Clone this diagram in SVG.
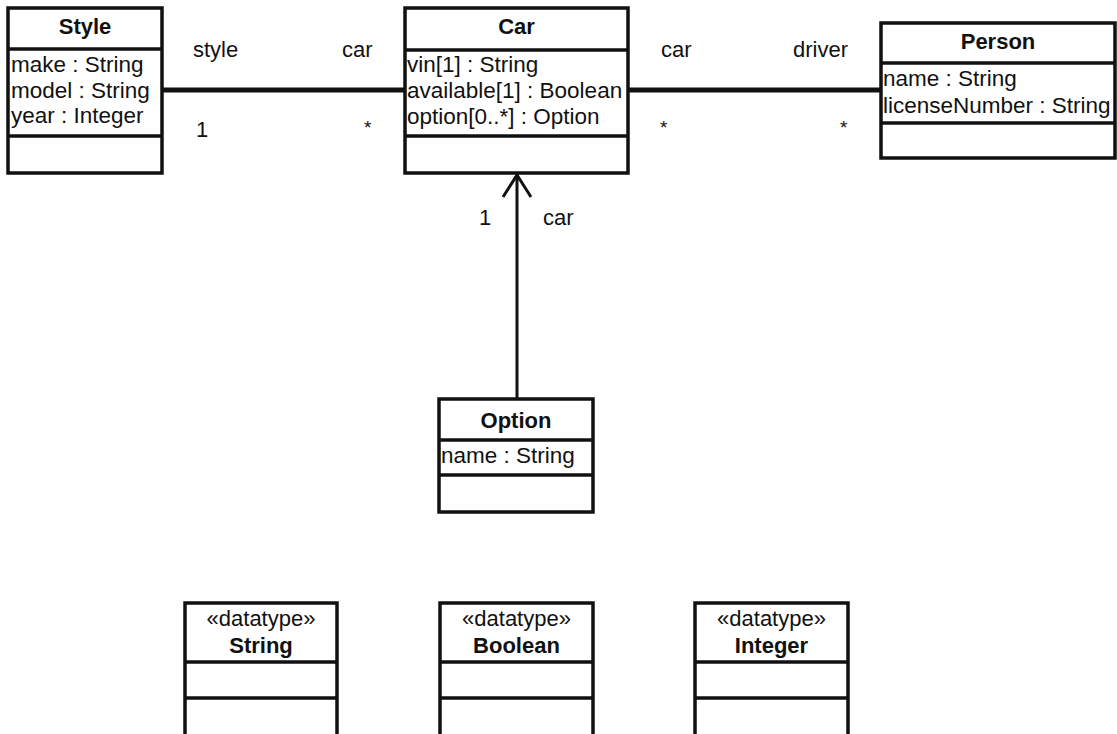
<svg xmlns="http://www.w3.org/2000/svg" width="1117" height="734" viewBox="0 0 1117 734">
<style>
text{font-family:"Liberation Sans",Arial,Helvetica,sans-serif;font-size:22.5px;fill:#111}
.t{font-weight:bold;text-anchor:middle;font-size:22px}
.s{text-anchor:middle;font-size:22px}
.box{fill:#fff;stroke:#111;stroke-width:3.5}
.div{stroke:#111;stroke-width:3.5}
.assoc{stroke:#111;stroke-width:5;fill:none}
.nav{stroke:#111;stroke-width:3;fill:none}
.lbl{font-size:22px}
.ast{font-size:19px}
</style>
<rect width="1117" height="734" fill="#fff"/>
<g id="connectors">
<line class="assoc" x1="162" y1="90" x2="405" y2="90"/>
<line class="assoc" x1="628" y1="90" x2="881" y2="90"/>
<line class="nav" x1="517" y1="399" x2="517" y2="175"/>
<polyline class="nav" points="503,197 517,175 531,197"/>
<text class="lbl" x="193" y="57">style</text>
<text class="lbl" x="342" y="57">car</text>
<text class="lbl" x="196" y="137">1</text>
<text class="ast" x="364" y="134">*</text>
<text class="lbl" x="661" y="57">car</text>
<text class="lbl" x="793" y="57">driver</text>
<text class="ast" x="660" y="134">*</text>
<text class="ast" x="840" y="134">*</text>
<text class="lbl" x="479" y="225">1</text>
<text class="lbl" x="543" y="225">car</text>
</g>
<g id="Style">
<rect class="box" x="8" y="8" width="154" height="165"/>
<line class="div" x1="8" y1="49" x2="162" y2="49"/>
<line class="div" x1="8" y1="136" x2="162" y2="136"/>
<text class="t" x="85" y="34">Style</text>
<text x="11" y="72">make : String</text>
<text x="11" y="98">model : String</text>
<text x="11" y="123">year : Integer</text>
</g>
<g id="Car">
<rect class="box" x="405" y="8" width="223" height="165"/>
<line class="div" x1="405" y1="50" x2="628" y2="50"/>
<line class="div" x1="405" y1="136" x2="628" y2="136"/>
<text class="t" x="516.5" y="34">Car</text>
<text x="407" y="72">vin[1] : String</text>
<text x="407" y="98">available[1] : Boolean</text>
<text x="407" y="124">option[0..*] : Option</text>
</g>
<g id="Person">
<rect class="box" x="881" y="23" width="234" height="135"/>
<line class="div" x1="881" y1="63" x2="1115" y2="63"/>
<line class="div" x1="881" y1="123" x2="1115" y2="123"/>
<text class="t" x="998" y="49">Person</text>
<text x="883" y="86">name : String</text>
<text x="883" y="113">licenseNumber : String</text>
</g>
<g id="Option">
<rect class="box" x="439" y="399" width="154" height="113"/>
<line class="div" x1="439" y1="440" x2="593" y2="440"/>
<line class="div" x1="439" y1="475" x2="593" y2="475"/>
<text class="t" x="516" y="428">Option</text>
<text x="441" y="463">name : String</text>
</g>
<g id="String">
<rect class="box" x="185" y="603" width="152" height="140"/>
<line class="div" x1="185" y1="662" x2="337" y2="662"/>
<line class="div" x1="185" y1="698" x2="337" y2="698"/>
<text class="s" x="261" y="626">«datatype»</text>
<text class="t" x="261" y="653">String</text>
</g>
<g id="Boolean">
<rect class="box" x="440" y="603" width="153" height="140"/>
<line class="div" x1="440" y1="662" x2="593" y2="662"/>
<line class="div" x1="440" y1="698" x2="593" y2="698"/>
<text class="s" x="516.5" y="626">«datatype»</text>
<text class="t" x="516.5" y="653">Boolean</text>
</g>
<g id="Integer">
<rect class="box" x="695" y="603" width="153" height="140"/>
<line class="div" x1="695" y1="662" x2="848" y2="662"/>
<line class="div" x1="695" y1="698" x2="848" y2="698"/>
<text class="s" x="771.5" y="626">«datatype»</text>
<text class="t" x="771.5" y="653">Integer</text>
</g>
</svg>
